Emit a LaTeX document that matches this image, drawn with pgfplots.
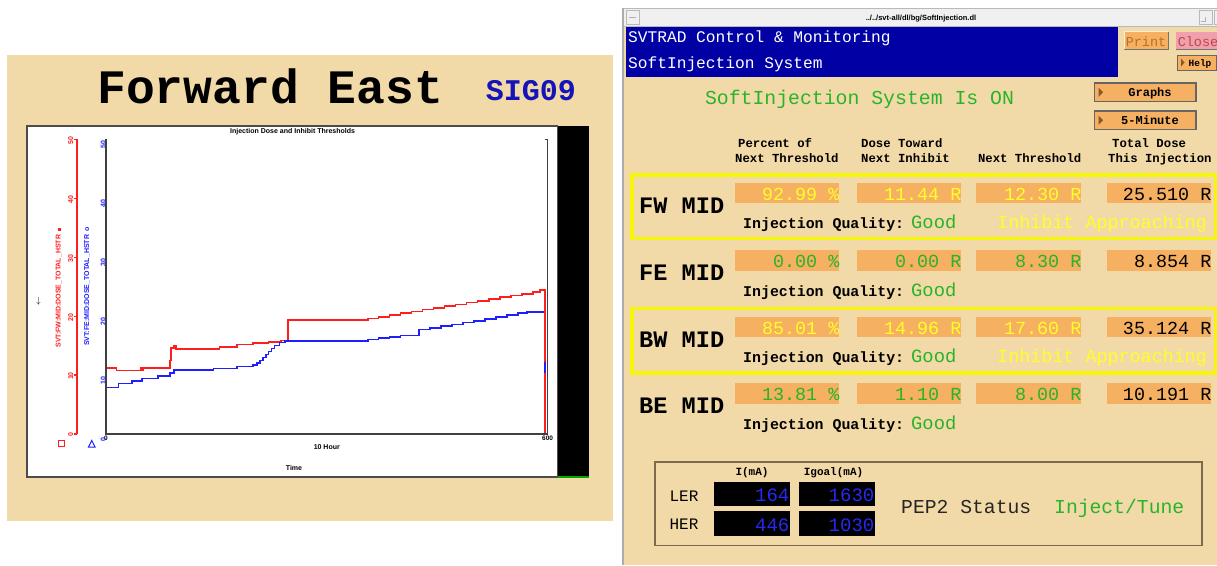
\documentclass[border=0pt]{standalone}
\usepackage{fontspec}
\setmainfont{Liberation Sans}
\newfontfamily\mono{Liberation Mono}
\usepackage{pgfplots}
\pgfplotsset{compat=1.18}
\definecolor{tanbg}{RGB}{242,217,168}
\definecolor{orng}{RGB}{245,176,98}
\definecolor{dkblue}{RGB}{0,0,164}
\definecolor{gtxt}{RGB}{40,180,40}
\definecolor{ytxt}{RGB}{255,255,40}
\definecolor{ybord}{RGB}{246,246,10}
\definecolor{plred}{RGB}{255,30,30}
\definecolor{plblue}{RGB}{30,30,255}
\definecolor{sigblue}{RGB}{20,20,185}
\definecolor{digblue}{RGB}{40,40,245}
\definecolor{pinkb}{RGB}{240,160,172}
\definecolor{framec}{RGB}{125,105,75}
\newcommand{\fs}[1]{\fontsize{#1}{#1}\selectfont}
\begin{document}
\begin{tikzpicture}
\begin{scope}[x=1pt,y=-1pt]
\useasboundingbox (0,0) rectangle (1217,565);
\fill[white] (0,0) rectangle (1217,565);
% ---------------- left panel
\fill[tanbg] (7,55) rectangle (613,521);
\node[anchor=base west, inner sep=0, font=\mono\bfseries\fs{48}] at (97,103.3) {Forward East};
\node[anchor=base west, inner sep=0, font=\mono\bfseries\fs{30}, text=sigblue] at (485.6,100) {SIG09};
\fill[white] (27,126) rectangle (557.5,477);
\draw[black!70, line width=1.5] (27,126) rectangle (557.5,477);
\fill[black] (557.5,126) rectangle (589,475.5);
\fill[green!65!black] (557.5,475.5) rectangle (589,477.5);
\node[font=\bfseries\fs{7}, inner sep=0] at (292.6,131.7) {Injection Dose and Inhibit Thresholds};
\node[rotate=90, font=\bfseries\fs{7}, text=plred, inner sep=0] at (58.5,288) {SVT:FW:MID:DOSE\_TOTAL\_HSTR\enspace\rule{3pt}{3pt}};
\node[rotate=90, font=\bfseries\fs{7}, text=plblue, inner sep=0] at (87,286.5) {SVT:FE:MID:DOSE\_TOTAL\_HSTR\enspace o};
\node[font=\fs{9}, inner sep=0] at (38.4,301.7) {$\downarrow$};
\draw[plred, line width=1] (58.3,440.3) rectangle (64.3,446.3);
\draw[plblue, line width=1] (88.5,447)--(95,447)--(91.7,440.5)--cycle;
\node[font=\bfseries\fs{7}, inner sep=0] at (294,468.3) {Time};
% ---------------- right window
\fill[tanbg] (624,8) rectangle (1217,565);
\fill[gray!12] (624,8) rectangle (1217,26);
\draw[gray!55] (624,8.5) -- (1217,8.5);
\draw[gray!55] (624,26) -- (1217,26);
\draw[gray!55] (626,10) rectangle (639,24);
\draw[gray!60] (629,17) -- (636,17);
\draw[gray!55] (1199,10) rectangle (1212,24);
\draw[gray!60] (1205,17) -- (1205,21) -- (1201,21);
\draw[gray!55] (1214,10) rectangle (1220,24);
\node[font=\bfseries\fs{7.5}, inner sep=0] at (921,19) {../../svt-all/dl/bg/SoftInjection.dl};
\draw[gray!65, line width=2] (623,8) -- (623,565);
\fill[dkblue] (626,26.5) rectangle (1117.5,77.3);
\node[anchor=base west, inner sep=0, font=\mono\fs{16.2}, text=white] at (628,42.5) {SVTRAD Control \& Monitoring};
\node[anchor=base west, inner sep=0, font=\mono\fs{16.2}, text=white] at (628,68.3) {SoftInjection System};
% buttons
\fill[orng] (1124,31.7) rectangle (1168,49.3);
\draw[black!55, line width=1] (1124,49.3) -- (1168,49.3) -- (1168,31.7);
\draw[white!80!orng, line width=1] (1124,49.3) -- (1124,31.7) -- (1168,31.7);
\node[anchor=base, inner sep=0, font=\mono\fs{13.5}, text={rgb,255:red,185;green,110;blue,40}] at (1146,46) {Print};
\fill[pinkb] (1176,31.7) rectangle (1220,49.3);
\draw[black!55, line width=1] (1176,49.3) -- (1220,49.3);
\node[anchor=base, inner sep=0, font=\mono\fs{13.5}, text={rgb,255:red,190;green,70;blue,70}] at (1198,46) {Close};
\fill[orng] (1177,55) rectangle (1216,70.5);
\draw[black!60, line width=1] (1177,55) rectangle (1216,70.5);
\fill[brown!70!black] (1181,58.5) -- (1184.5,62.5) -- (1181,66.5) -- cycle;
\node[anchor=base, inner sep=0, font=\mono\bfseries\fs{9.5}] at (1200,66.5) {Help};
\foreach \yy/\lab in {83/Graphs,111/5-Minute}{
  \fill[orng] (1094.5,\yy) rectangle (1196,\yy+18.5);
  \draw[black!60, line width=1.3] (1094.5,\yy) rectangle (1196,\yy+18.5);
  \fill[brown!70!black] (1098.5,\yy+4.5) -- (1103,\yy+9.25) -- (1098.5,\yy+14) -- cycle;
  \node[anchor=base, inner sep=0, font=\mono\bfseries\fs{12}] at (1150,\yy+13) {\lab};
}
\node[anchor=base, inner sep=0, font=\mono\fs{19.8}, text=gtxt] at (859.5,104.3) {SoftInjection System Is ON};
% headers
\begin{scope}[every node/.style={anchor=base west, inner sep=0, font=\mono\bfseries\fs{12.3}}]
\node at (738,147) {Percent of};
\node at (735,162) {Next Threshold};
\node at (861,147) {Dose Toward};
\node at (861,162) {Next Inhibit};
\node at (977.8,162) {Next Threshold};
\node at (1112,147) {Total Dose};
\node at (1108,162) {This Injection};
\end{scope}
% yellow frames
\draw[ybord, line width=3.6] (632,175) rectangle (1215.5,238.5);
\draw[ybord, line width=3.6] (632,308.5) rectangle (1215.5,373.2);
% rows
\foreach \top/\name/\va/\ca/\vb/\cb/\vc/\cc/\vd/\warn in {
  182.7/FW MID/92.99 \%/ytxt/11.44 R/ytxt/12.30 R/ytxt/25.510 R/1,
  250/FE MID/0.00 \%/gtxt/0.00 R/gtxt/8.30 R/gtxt/8.854 R/0,
  316.7/BW MID/85.01 \%/ytxt/14.96 R/ytxt/17.60 R/ytxt/35.124 R/1,
  383.3/BE MID/13.81 \%/gtxt/1.10 R/gtxt/8.00 R/gtxt/10.191 R/0}{
  \fill[orng] (735,\top) rectangle (839,\top+20.5);
  \fill[orng] (857,\top) rectangle (961,\top+20.5);
  \fill[orng] (976,\top) rectangle (1081,\top+20.5);
  \fill[orng] (1107,\top) rectangle (1211,\top+20.5);
  \node[anchor=base east, inner sep=0, font=\mono\fs{18.4}, text=\ca] at (839.5,\top+17.3) {\va};
  \node[anchor=base east, inner sep=0, font=\mono\fs{18.4}, text=\cb] at (961.5,\top+17.3) {\vb};
  \node[anchor=base east, inner sep=0, font=\mono\fs{18.4}, text=\cc] at (1081.5,\top+17.3) {\vc};
  \node[anchor=base east, inner sep=0, font=\mono\fs{18.4}, text=black] at (1211.5,\top+17.3) {\vd};
  \node[anchor=base west, inner sep=0, font=\mono\bfseries\fs{23.6}] at (639,\top+30.6) {\name};
  \node[anchor=base west, inner sep=0, font=\mono\bfseries\fs{14.9}] at (743,\top+46) {Injection Quality:};
  \node[anchor=base west, inner sep=0, font=\mono\fs{18.8}, text=gtxt] at (911,\top+46) {Good};
  \ifnum\warn=1
  \node[anchor=base west, inner sep=0, font=\mono\fs{18.4}, text=ytxt] at (997,\top+46) {Inhibit Approaching};
  \fi
}
% bottom panel
\draw[framec, line width=1.2] (655,462) rectangle (1202,545.7);
\node[anchor=base, inner sep=0, font=\mono\bfseries\fs{11}] at (752,475) {I(mA)};
\node[anchor=base, inner sep=0, font=\mono\bfseries\fs{11}] at (833.5,475) {Igoal(mA)};
\node[anchor=base, inner sep=0, font=\mono\fs{16}] at (684,501.7) {LER};
\node[anchor=base, inner sep=0, font=\mono\fs{16}] at (684,529.3) {HER};
\fill[black] (714,481.7) rectangle (789.5,506);
\fill[black] (798.7,481.7) rectangle (874.5,506);
\fill[black] (714,511) rectangle (789.5,535.7);
\fill[black] (798.7,511) rectangle (874.5,535.7);
\node[anchor=base east, inner sep=0, font=\mono\fs{19}, text=digblue] at (789.5,501.7) {164};
\node[anchor=base east, inner sep=0, font=\mono\fs{19}, text=digblue] at (874.5,501.7) {1630};
\node[anchor=base east, inner sep=0, font=\mono\fs{19}, text=digblue] at (789.5,531.7) {446};
\node[anchor=base east, inner sep=0, font=\mono\fs{19}, text=digblue] at (874.5,531.7) {1030};
\node[anchor=base west, inner sep=0, font=\mono\fs{19.7}, text=black!85] at (901,513) {PEP2 Status};
\node[anchor=base west, inner sep=0, font=\mono\fs{19.7}, text=gtxt] at (1054,513) {Inject/Tune};
\end{scope}
% ---------------- red y axis
\begin{axis}[
  at={(77pt,-434pt)}, anchor=south west,
  scale only axis, width=20pt, height=294.7pt,
  xmin=0, xmax=1, ymin=0, ymax=50,
  axis x line=none, axis y line=left,
  axis line style={plred, line width=1.2pt, -},
  ytick={0,10,20,30,40,50},
  tick align=outside, major tick length=3.5pt,
  tick style={plred, line width=1.2pt},
  yticklabel style={text=plred, rotate=90, anchor=south, font=\bfseries\fs{7}, inner sep=0pt, xshift=-1pt},
  /pgf/number format/assume math mode=true,
]
\addplot[draw=none] coordinates {(0,0)};
\end{axis}
% ---------------- main axis
\begin{axis}[
  at={(106pt,-434pt)}, anchor=south west,
  scale only axis, width=441.6pt, height=294.7pt,
  xmin=0, xmax=600, ymin=0, ymax=50,
  axis line style={draw=none},
  xtick={0,600}, ytick={0,10,20,30,40,50},
  major tick length=0pt,
  yticklabel style={text=plblue, rotate=90, anchor=south, font=\bfseries\fs{7}, inner sep=0pt, xshift=-5.5pt},
  xticklabel style={font=\bfseries\fs{6.5}, inner sep=0pt, anchor=north, yshift=-2pt},
  xlabel={10 Hour},
  xlabel style={font=\bfseries\fs{7}, at={(axis description cs:0.5,0)}, anchor=center, yshift=-12.7pt, inner sep=0pt},
  /pgf/number format/assume math mode=true,
  clip=false,
]
\addplot[plred, line width=1.6pt, const plot] coordinates {
(0,11.15) (14.5,10.75) (47,11.15) (49,10.9) (51,11.15) (87,12.5) (88.5,14.6) (92,14.9) (95,14.4)
(154,14.8) (178,15.2) (200,15.4) (221,15.6) (238,15.84) (247,19.34) (355.6,19.6) (370,19.9)
(385,20.2) (400,20.5) (415,20.8) (430,21.1) (445,21.4) (460,21.7) (475,22.0) (490,22.3)
(505,22.6) (520,22.9) (535,23.2) (550,23.5) (565,23.8) (580,24.1) (590,24.43) (596.5,0)};
\addplot[plblue, line width=1.6pt, const plot] coordinates {
(0,7.86) (17,8.6) (35,9.0) (49,9.45) (71,9.84) (87,10.4) (92,10.86) (146,11.1) (178,11.42)
(200,11.7) (205,12.0) (209,12.5) (213,13.0) (217,13.5) (221,14.0) (225,14.5) (229,15.0)
(236,15.5) (243,15.83) (355.6,16.05) (370,16.3) (385,16.5) (400,16.7) (425,17.76) (440,18.0)
(455,18.3) (470,18.6) (485,18.9) (500,19.2) (515,19.5) (530,19.9) (545,20.2) (560,20.5)
(572,20.75) (594.6,20.75)};
\addplot[plblue, line width=1.6pt] coordinates {(596.5,12.3) (596.5,10.3)};
\draw[black!75, line width=1.6pt] (rel axis cs:0,1) -- (rel axis cs:0,0) -- (rel axis cs:1,0) -- (rel axis cs:1,1) -- ++(-3pt,0);
\end{axis}
\end{tikzpicture}
\end{document}
